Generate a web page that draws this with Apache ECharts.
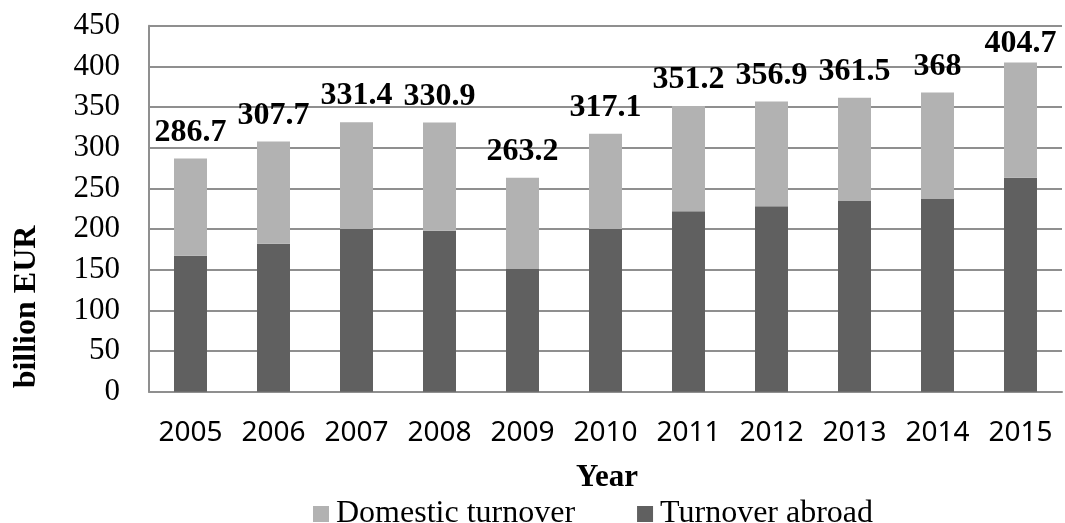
<!DOCTYPE html>
<html>
<head>
<meta charset="utf-8">
<script src="https://cdn.jsdelivr.net/npm/echarts@6/dist/echarts.min.js"></script>
<style>
  html, body { margin: 0; padding: 0; background: #fff; }
  #chart { width: 1065px; height: 523px; }
</style>
</head>
<body>
<div id="chart"></div>
<script>
const years = ['2005', '2006', '2007', '2008', '2009', '2010', '2011', '2012', '2013', '2014', '2015']
// totals shown above the bars
const totals = [286.7, 307.7, 331.4, 330.9, 263.2, 317.1, 351.2, 356.9, 361.5, 368, 404.7]
const abroad = [167, 182, 200, 198, 151, 200, 222, 228, 234.5, 237, 263]
const domestic = [119.7, 125.7, 131.4, 132.9, 112.2, 117.1, 129.2, 128.9, 127, 131, 141.7]
const yTicks = [0, 50, 100, 150, 200, 250, 300, 350, 400, 450]

const serif = '"Liberation Serif", "Times New Roman", serif'
const gridColor = '#8f8f8f'

const chart = echarts.init(document.getElementById('chart'))
const option = {
  animation: false,
  grid: {
    left: 149,
    right: 3,
    top: 25.7,
    bottom: 131.3
  },
  legend: {
    data: ['Domestic turnover', 'Turnover abroad'],
    left: 308,
    top: 493,
    icon: 'rect',
    itemWidth: 16,
    itemHeight: 16,
    itemGap: 62,
    itemStyle: { borderWidth: 0 },
    textStyle: {
      fontFamily: serif,
      fontSize: 32,
      color: '#000',
      padding: [0, 0, 0, 2]
    }
  },
  graphic: [
    {
      type: 'text',
      x: 607,
      y: 478,
      style: {
        text: 'Year',
        font: 'bold 31px ' + serif,
        fill: '#000',
        align: 'center',
        verticalAlign: 'middle'
      }
    },
    {
      type: 'text',
      x: 27,
      y: 307,
      rotation: Math.PI / 2,
      style: {
        text: 'billion EUR',
        font: 'bold 32px ' + serif,
        fill: '#000',
        align: 'center',
        verticalAlign: 'middle'
      }
    }
  ],
  xAxis: {
    type: 'category',
    data: years,
    axisLine: {
      lineStyle: { color: gridColor, width: 2 }
    },
    axisTick: { show: false },
    axisLabel: {
      interval: 0,
      margin: 27,
      fontFamily: '"Noto Sans", sans-serif',
      fontSize: 28,
      color: '#000'
    }
  },
  yAxis: {
    type: 'value',
    min: yTicks[0],
    max: yTicks[yTicks.length - 1],
    interval: 50,
    axisLine: {
      show: true,
      lineStyle: { color: gridColor, width: 2 }
    },
    axisTick: { show: false },
    axisLabel: {
      margin: 29,
      fontFamily: serif,
      fontSize: 31,
      color: '#000'
    },
    splitLine: {
      lineStyle: { color: gridColor, width: 2 }
    }
  },
  series: [
    {
      name: 'Turnover abroad',
      type: 'bar',
      stack: 'total',
      barWidth: 33,
      itemStyle: { color: '#606060' },
      data: abroad
    },
    {
      name: 'Domestic turnover',
      type: 'bar',
      stack: 'total',
      barWidth: 33,
      itemStyle: { color: '#b2b2b2' },
      label: {
        show: true,
        position: 'top',
        distance: 10,
        fontFamily: serif,
        fontWeight: 'bold',
        fontSize: 32,
        color: '#000',
        formatter: function(p) {
          return totals[p.dataIndex]
        }
      },
      // last label sits lower, squeezed under the top of the plot
      data: domestic.map(function(v, i) {
        return i === domestic.length - 1 ? { value: v, label: { distance: 3 } } : v
      })
    }
  ]
}
chart.setOption(option)
window.onresize = function() {
  chart.resize()
}
</script>
</body>
</html>
